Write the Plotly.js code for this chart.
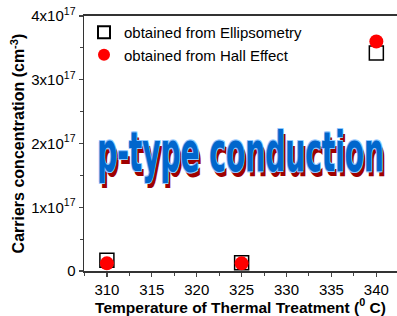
<!DOCTYPE html>
<html><head><meta charset="utf-8">
<script src="https://cdn.plot.ly/plotly-3.0.1.min.js"></script>
<style>html,body{margin:0;padding:0;background:#fff}#c{width:397px;height:316px}</style>
</head><body><div id="c"></div>
<script>
const temps = [310, 325, 340];
const ellipsometry = [1.7e16, 1.3e16, 3.42e17];
const hallEffect = [1.2e16, 1.2e16, 3.6e17];
const yTickVals = [0, 1e17, 2e17, 3e17, 4e17];
const yTickText = ['0', '1x10<sup>17</sup>', '2x10<sup>17</sup>', '3x10<sup>17</sup>', '4x10<sup>17</sup>'];
const xTickVals = [310, 315, 320, 325, 330, 335, 340];

const traces = [
  {x: temps, y: ellipsometry, mode: 'markers', type: 'scatter', name: 'obtained from Ellipsometry',
   marker: {symbol: 'square-open', size: 14, color: '#000', line: {width: 1.5, color: '#000'}}},
  {x: temps, y: hallEffect, mode: 'markers', type: 'scatter', name: 'obtained from Hall Effect',
   marker: {symbol: 'circle', size: 14, color: '#ff0000'}}
];
const layout = {
  width: 397, height: 316,
  margin: {l: 84, r: 0, t: 16, b: 45},
  paper_bgcolor: '#fff', plot_bgcolor: '#fff',
  font: {family: 'Arial, Liberation Sans, sans-serif', color: '#000'},
  showlegend: true,
  legend: {x: 0.0, y: 1.0, xanchor: 'left', yanchor: 'top', bgcolor: 'rgba(0,0,0,0)',
           font: {size: 15, family: 'Arial, Liberation Sans, sans-serif'}, itemsizing: 'constant', tracegroupgap: 0},
  xaxis: {range: [307.45, 342.3], tickvals: xTickVals, ticks: 'outside', ticklen: 4, tickwidth: 1.2,
          showline: true, linecolor: '#333', linewidth: 2, mirror: true, showgrid: false, zeroline: false,
          tickfont: {size: 15}, minor: {dtick: 2.5, ticks: 'outside', ticklen: 3, tickwidth: 1},
          title: {text: 'Temperature of Thermal Treatment (<sup>0</sup> C)', font: {size: 15.5, weight: 'bold'}, standoff: 4}},
  yaxis: {range: [0, 4e17], tickvals: yTickVals, ticktext: yTickText, ticks: 'outside', ticklen: 4, tickwidth: 1.2,
          showline: true, linecolor: '#333', linewidth: 1.5, showgrid: false, zeroline: false,
          tickfont: {size: 15}, minor: {dtick: 0.5e17, ticks: 'outside', ticklen: 3, tickwidth: 1},
          title: {text: 'Carriers concentration (cm<sup>-3</sup>)', font: {size: 16, weight: 'bold'}, standoff: 2}},
  annotations: [{
    text: 'p-type conduction', xref: 'paper', yref: 'paper', x: 0.5, y: 0.47, xanchor: 'center', yanchor: 'middle',
    showarrow: false,
    font: {family: 'DejaVu Sans, sans-serif', size: 56, weight: 'bold', color: '#0066cc',
           shadow: '-1px -1px 0 #8fc8ff, 1px -1px 0 #8fc8ff, -1px 1px 0 #8fc8ff, 1px 1px 0 #8fc8ff, 4px 4px 0 #a00000'}
  }]
};
Plotly.newPlot('c', traces, layout, {displayModeBar: false, staticPlot: true}).then(function(gd){
  const t = gd.querySelector('text.annotation-text');
  if (t) {
    const bb = t.getBBox();
    const k = 287 / bb.width;
    t.style.transformBox = 'fill-box';
    t.style.transformOrigin = 'center';
    t.style.transform = 'scaleX(' + k + ')';
  }
});
</script></body></html>
